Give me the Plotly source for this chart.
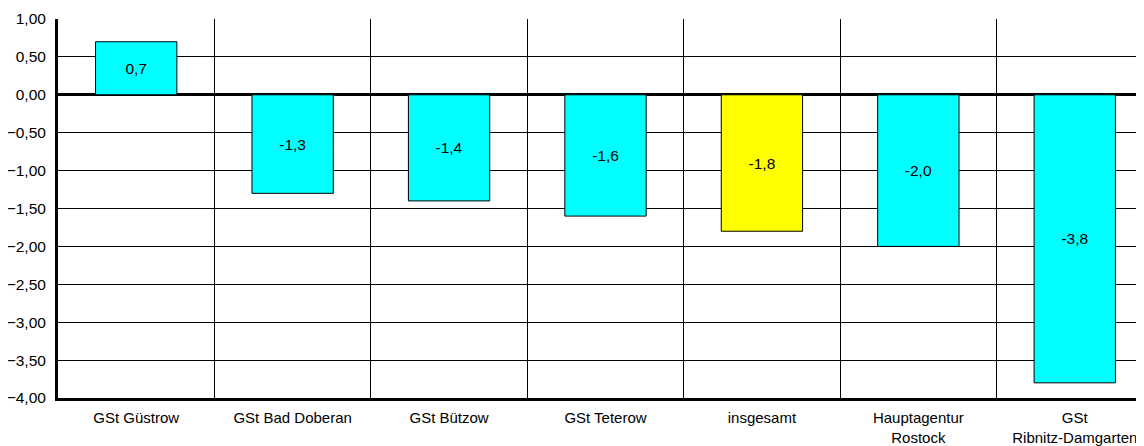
import plotly.graph_objects as go

categories = ["GSt Güstrow", "GSt Bad Doberan", "GSt Bützow", "GSt Teterow",
              "insgesamt", "Hauptagentur<br>Rostock", "GSt<br>Ribnitz-Damgarten"]
values = [0.7, -1.3, -1.4, -1.6, -1.8, -2.0, -3.8]
bar_colors = ["#00FFFF", "#00FFFF", "#00FFFF", "#00FFFF", "#FFFF00", "#00FFFF", "#00FFFF"]
y_ticks = [1.0, 0.5, 0.0, -0.5, -1.0, -1.5, -2.0, -2.5, -3.0, -3.5, -4.0]

FONT = "Liberation Sans, Arial, sans-serif"

n = len(categories)

fig = go.Figure()
# invisible helper trace on overlay axis (for vertical boundary grid lines)
fig.add_trace(go.Scatter(x=[0], y=[0], xaxis="x2", mode="markers",
                         marker=dict(opacity=0), hoverinfo="skip", showlegend=False))
fig.add_trace(go.Bar(
    x=list(range(n)),
    y=values,
    marker=dict(color=bar_colors, line=dict(color="#000000", width=1)),
    texttemplate="%{y:.1f}",
    textposition="inside",
    insidetextanchor="middle",
    textangle=0,
    textfont=dict(family=FONT, size=15.5, color="#000000"),
))

# page body has an 8px default margin, so the figure is 8px smaller
fig.update_layout(
    width=1136, height=438,
    margin=dict(l=50, r=0, t=11, b=48, autoexpand=False),
    paper_bgcolor="#FFFFFF", plot_bgcolor="#FFFFFF",
    separators=",.",
    bargap=0.48,
    showlegend=False,
    font=dict(family=FONT, size=15, color="#000000"),
)

fig.update_xaxes(
    automargin=False,
    tickmode="array",
    tickvals=list(range(n)),
    ticktext=categories,
    range=[-0.5, n - 0.5 - 9 / 156.5],
    showgrid=False,
    showline=True, linecolor="#000000", linewidth=3,
    ticks="", ticklen=0, ticklabelstandoff=4,
    tickfont=dict(family=FONT, size=15, color="#000000"),
    zeroline=False,
)
fig.update_layout(xaxis2=dict(
    overlaying="x", matches="x", side="bottom", automargin=False,
    tickmode="array",
    tickvals=[i + 0.5 for i in range(n - 1)],
    showticklabels=False, ticks="",
    showgrid=True, gridcolor="#000000", gridwidth=1,
    showline=False, zeroline=False,
))

fig.update_yaxes(
    automargin=False,
    range=[-4, 1],
    tickmode="array",
    tickvals=y_ticks,
    tickformat=".2f",
    showgrid=True, gridcolor="#000000", gridwidth=1,
    zeroline=True, zerolinecolor="#000000", zerolinewidth=3,
    showline=True, linecolor="#000000", linewidth=3,
    ticks="", ticklabelstandoff=6,
    tickfont=dict(family=FONT, size=15.5, color="#000000"),
)

fig.write_html("out.html")
